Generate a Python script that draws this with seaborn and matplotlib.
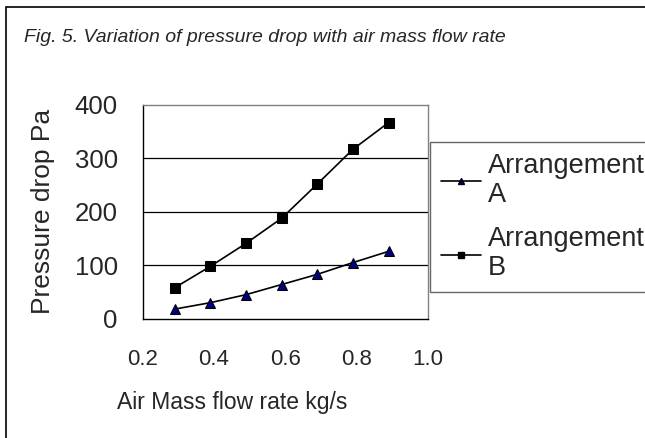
import numpy as np
import pandas as pd
import seaborn as sns
import matplotlib.pyplot as plt
from matplotlib.patches import Rectangle
from matplotlib.lines import Line2D

# values
flow_rate = [0.29, 0.39, 0.49, 0.59, 0.69, 0.79, 0.89]
dp_arr_a = [18, 30, 45, 64, 83, 105, 126]
dp_arr_b = [58, 98, 141, 188, 252, 317, 367]
series_names = ["Arrangement\nA", "Arrangement\nB"]

df = pd.DataFrame({
    "flow": flow_rate * 2,
    "dp": dp_arr_a + dp_arr_b,
    "arr": [series_names[0]] * len(flow_rate) + [series_names[1]] * len(flow_rate),
})

sns.set_theme(style="white")
plt.rcParams['font.family'] = ['Liberation Sans', 'DejaVu Sans']

W, H = 645, 438
fig = plt.figure(figsize=(W / 100, H / 100), dpi=100)
ax = fig.add_axes([142.7 / W, 1 - 318.7 / H, 285 / W, 213.7 / H])

# outer frame (runs off the right and bottom edge)
fig.patches.append(Rectangle((6 / W, -0.1), 1.2, 1 - 7 / H + 0.1, transform=fig.transFigure,
                             fill=False, edgecolor="black", linewidth=1.2))

sns.lineplot(data=df, x="flow", y="dp", hue="arr", style="arr",
             palette={series_names[0]: "black", series_names[1]: "black"},
             markers={series_names[0]: "^", series_names[1]: "s"},
             dashes=False, markersize=7, linewidth=1.2, legend=False, ax=ax)
# colour the triangles navy
for ln in ax.lines:
    if ln.get_marker() == "^":
        ln.set_markerfacecolor("#000080")
        ln.set_markeredgecolor("black")
    else:
        ln.set_markerfacecolor("black")
        ln.set_markeredgecolor("black")

ax.set_xlim(0.2, 1.0)
ax.set_ylim(0, 400)
ax.set_xticks([0.2, 0.4, 0.6, 0.8, 1.0])
ax.set_xticklabels(["0.2", "0.4", "0.6", "0.8", "1.0"])
ax.set_yticks([0, 100, 200, 300, 400])
for y in [100, 200, 300]:
    ax.axhline(y, color="black", linewidth=0.9, zorder=0)

for side in ["left", "bottom"]:
    ax.spines[side].set_color("black")
    ax.spines[side].set_linewidth(1.0)
for side in ["top", "right"]:
    ax.spines[side].set_color("#808080")
    ax.spines[side].set_linewidth(1.0)

ax.tick_params(axis="both", which="major", direction="out", length=7, width=1,
               color="black")
ax.tick_params(axis="x", labelsize=16, pad=15)
ax.tick_params(axis="y", labelsize=18.5, pad=11)
ax.set_xlabel("Air Mass flow rate kg/s", fontsize=16.5)
ax.xaxis.set_label_coords((232 - 142.7) / 285, -(402 - 318.7) / 213.7)
ax.xaxis.label.set_va("center")
ax.set_ylabel("Pressure drop Pa", fontsize=19)
ax.yaxis.set_label_coords((43 - 142.7) / 285, 0.5)
ax.yaxis.label.set_va("center")

fig.text(24 / W, 1 - 37 / H, "Fig. 5. Variation of pressure drop with air mass flow rate",
         fontsize=14, style="italic", va="center", ha="left")

handles = [
    Line2D([], [], color="black", marker="^", markerfacecolor="#000080",
           markeredgecolor="black", markersize=5, linewidth=1.2),
    Line2D([], [], color="black", marker="s", markerfacecolor="black",
           markeredgecolor="black", markersize=4, linewidth=1.2),
]
# the legend runs past the right edge, as in the original figure
leg = fig.legend(handles, series_names, loc="upper left",
                 bbox_to_anchor=(430 / W, 1 - 141.7 / H),
                 frameon=True, fancybox=False, fontsize=19.5, handlelength=1.5,
                 handletextpad=0.25, borderpad=0.4, labelspacing=0.7, borderaxespad=0)
for t in leg.get_texts():
    t.set_linespacing(1.15)
leg.get_frame().set_edgecolor("#404040")
leg.get_frame().set_linewidth(1.0)

fig.savefig("out.png", dpi=100)
